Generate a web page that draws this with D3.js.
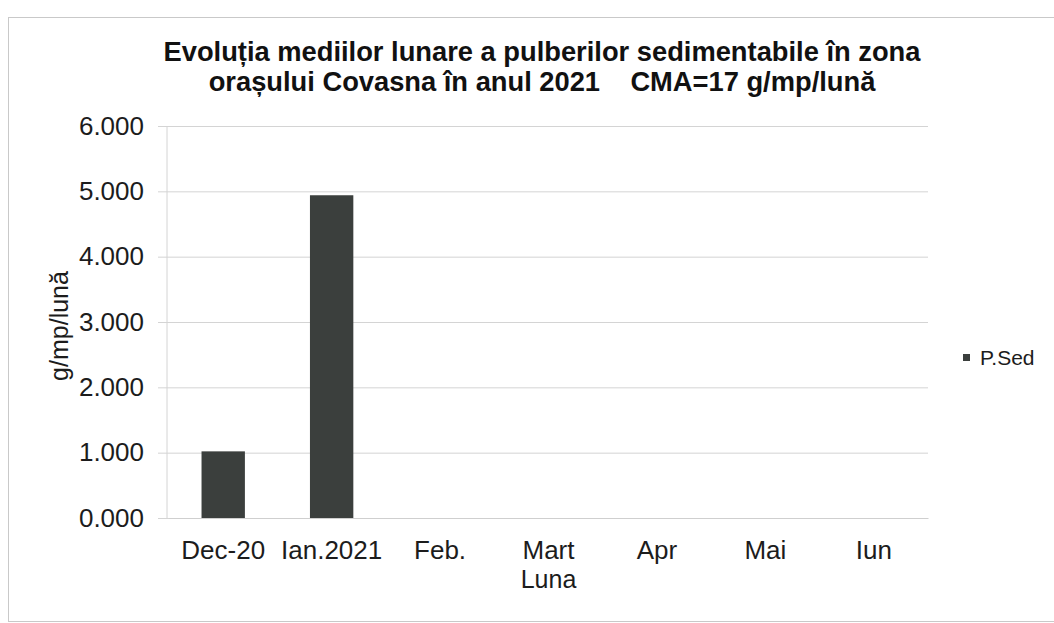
<!DOCTYPE html>
<html>
<head>
<meta charset="utf-8">
<script src="https://cdn.jsdelivr.net/npm/d3@7"></script>
<style>
    body { margin: 0; background: #fff; }
    svg { display: block; font-family: "Liberation Sans", Arial, sans-serif; }
</style>
</head>
<body>
<div id="chart"></div>
<script>
// chart data
const categories = ["Dec-20", "Ian.2021", "Feb.", "Mart", "Apr", "Mai", "Iun"];
const pSed = [1.02, 4.94, null, null, null, null, null];
const yTicks = [0, 1, 2, 3, 4, 5, 6];
const titleLines = [
    "Evoluția mediilor lunare a pulberilor sedimentabile în zona",
    "orașului Covasna în anul 2021    CMA=17 g/mp/lună"
];
const seriesName = "P.Sed";

const width = 1054, height = 623;
const margin = { top: 126, right: 126, bottom: 105, left: 169 };

const svg = d3.select("#chart").append("svg")
    .attr("width", width)
    .attr("height", height);

// outer frame of the chart object
svg.append("rect")
    .attr("x", 8.5).attr("y", 17.5)
    .attr("width", width + 10).attr("height", 604)
    .attr("fill", "none")
    .attr("stroke", "#c9c9c9");

const plotW = width - margin.left - margin.right;
const plotH = height - margin.top - margin.bottom;

const plot = svg.append("g")
    .attr("transform", `translate(${margin.left},${margin.top})`);

const xScale = d3.scaleBand()
    .domain(categories)
    .range([0, plotW])
    .paddingInner(0.6)
    .paddingOuter(0.3);

const yScale = d3.scaleLinear()
    .domain([0, 6])
    .range([plotH, 0]);

// gridlines and y axis
const yAxis = d3.axisLeft(yScale)
    .tickValues(yTicks)
    .tickSize(-plotW)
    .tickPadding(25)
    .tickFormat(d => d3.format(".3f")(d));

const yg = plot.append("g").call(yAxis);
yg.select(".domain").remove();
yg.selectAll(".tick line")
    .attr("x1", -11)
    .attr("stroke", "#d4d4d4");
yg.selectAll(".tick text")
    .attr("font-size", 26)
    .attr("fill", "#1c1c1c")
    .attr("font-family", "Liberation Sans, Arial, sans-serif");

// vertical axis line
plot.append("line")
    .attr("x1", -2).attr("x2", -2)
    .attr("y1", 0).attr("y2", plotH)
    .attr("stroke", "#d4d4d4");

// x axis
const xAxis = d3.axisBottom(xScale).tickSize(0).tickPadding(23);
const xg = plot.append("g")
    .attr("transform", `translate(0,${plotH})`)
    .call(xAxis);
xg.select(".domain").attr("stroke", "#cfcfcf");
xg.selectAll(".tick text")
    .attr("font-size", 26)
    .attr("fill", "#1c1c1c")
    .attr("font-family", "Liberation Sans, Arial, sans-serif");

// bars
plot.append("g")
    .selectAll("rect")
    .data(categories.map((c, i) => ({ cat: c, value: pSed[i] })).filter(d => d.value != null))
    .enter()
    .append("rect")
    .attr("x", d => xScale(d.cat))
    .attr("width", xScale.bandwidth())
    .attr("y", d => yScale(d.value))
    .attr("height", d => plotH - yScale(d.value))
    .attr("fill", "#3b3f3d");

// title
svg.append("g")
    .selectAll("text")
    .data(titleLines)
    .enter()
    .append("text")
    .attr("x", 542)
    .attr("y", (d, i) => 61 + i * 30)
    .attr("text-anchor", "middle")
    .attr("font-size", 27.3)
    .attr("font-weight", "bold")
    .attr("fill", "#111")
    .style("white-space", "pre")
    .text(d => d);

// axis titles
svg.append("text")
    .attr("transform", "translate(68,326) rotate(-90)")
    .attr("text-anchor", "middle")
    .attr("font-size", 25)
    .attr("fill", "#1c1c1c")
    .text("g/mp/lună");

svg.append("text")
    .attr("x", margin.left + plotW / 2)
    .attr("y", 588)
    .attr("text-anchor", "middle")
    .attr("font-size", 25)
    .attr("fill", "#1c1c1c")
    .text("Luna");

// legend
const legend = svg.append("g").attr("transform", "translate(963,354)");
legend.append("rect")
    .attr("width", 7).attr("height", 7)
    .attr("fill", "#3b3f3d");
legend.append("text")
    .attr("x", 17).attr("y", 11)
    .attr("font-size", 21)
    .attr("fill", "#1c1c1c")
    .text(seriesName);
</script>
</body>
</html>
